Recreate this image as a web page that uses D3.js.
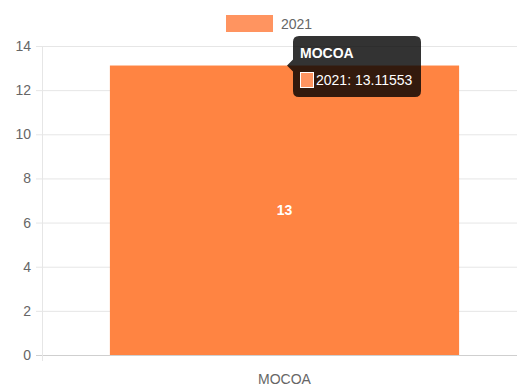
<!DOCTYPE html>
<html>
<head>
<meta charset="utf-8">
<script src="https://cdn.jsdelivr.net/npm/d3@7"></script>
<style>
  body { margin: 0; background: #fff; }
  svg { display: block; font-family: "Liberation Sans", Arial, sans-serif; }
</style>
</head>
<body>
<div id="chart"></div>
<script>
// data
const categories = ["MOCOA"]
const seriesName = "2021"
const values = [13.11553]
const yTicks = [0, 2, 4, 6, 8, 10, 12, 14]

const width = 517, height = 387
const margin = { top: 46, right: -10, bottom: 32, left: 42 }

const svg = d3.select("#chart").append("svg")
  .attr("width", width)
  .attr("height", height)

const x = d3.scaleBand()
  .domain(categories)
  .range([margin.left, width - margin.right])
  .paddingInner(0.28)
  .paddingOuter(0.14)

const y = d3.scaleLinear()
  .domain([0, 14])
  .range([height - margin.bottom, margin.top])

// gridlines
svg.append("g")
  .selectAll("line")
  .data(yTicks)
  .enter().append("line")
  .attr("x1", margin.left - 6)
  .attr("x2", width)
  .attr("y1", d => y(d) + 0.5)
  .attr("y2", d => y(d) + 0.5)
  .attr("stroke", d => d === 0 ? "#cfcfcf" : "#e6e6e6")
  .attr("stroke-width", 1)

// vertical axis line
svg.append("line")
  .attr("x1", margin.left + 0.5).attr("x2", margin.left + 0.5)
  .attr("y1", y(14)).attr("y2", y(0) + 6)
  .attr("stroke", "#e6e6e6")

// y labels
svg.append("g")
  .selectAll("text")
  .data(yTicks)
  .enter().append("text")
  .attr("x", margin.left - 11)
  .attr("y", d => y(d))
  .attr("dy", "0.36em")
  .attr("text-anchor", "end")
  .attr("font-size", 14)
  .attr("fill", "#666")
  .text(d => d)

// bars
svg.append("g")
  .selectAll("rect")
  .data(values)
  .enter().append("rect")
  .attr("x", (d, i) => x(categories[i]))
  .attr("width", x.bandwidth())
  .attr("y", d => y(d))
  .attr("height", d => y(0) - y(d))
  .attr("fill", "#ff8442")

// data labels
svg.append("g")
  .selectAll("text")
  .data(values)
  .enter().append("text")
  .attr("x", (d, i) => x(categories[i]) + x.bandwidth() / 2)
  .attr("y", d => (y(d) + y(0)) / 2)
  .attr("dy", "0.36em")
  .attr("text-anchor", "middle")
  .attr("font-size", 14)
  .attr("font-weight", "bold")
  .attr("fill", "#fff")
  .text(d => Math.round(d))

// x labels
svg.append("g")
  .selectAll("text")
  .data(categories)
  .enter().append("text")
  .attr("x", d => x(d) + x.bandwidth() / 2)
  .attr("y", y(0) + 24)
  .attr("dy", "0.36em")
  .attr("text-anchor", "middle")
  .attr("font-size", 14)
  .attr("fill", "#666")
  .text(d => d)

// legend
const legend = svg.append("g")
legend.append("rect")
  .attr("x", 226).attr("y", 15)
  .attr("width", 47).attr("height", 17)
  .attr("fill", "#ff9460")
legend.append("text")
  .attr("x", 281).attr("y", 24)
  .attr("dy", "0.36em")
  .attr("font-size", 14)
  .attr("fill", "#666")
  .text(seriesName)

// tooltip
const tip = svg.append("g")
const tx = 293, ty = 36, tw = 128, th = 61, r = 6
const cx = tx, cy = y(values[0])
tip.append("path")
  .attr("d", `M${tx + r},${ty} H${tx + tw - r} Q${tx + tw},${ty} ${tx + tw},${ty + r}
    V${ty + th - r} Q${tx + tw},${ty + th} ${tx + tw - r},${ty + th}
    H${tx + r} Q${tx},${ty + th} ${tx},${ty + th - r}
    V${cy + 6} L${cx - 6},${cy} L${tx},${cy - 6}
    V${ty + r} Q${tx},${ty} ${tx + r},${ty} Z`)
  .attr("fill", "rgba(0,0,0,0.8)")
tip.append("text")
  .attr("x", tx + 7).attr("y", ty + 17)
  .attr("dy", "0.36em")
  .attr("font-size", 14)
  .attr("font-weight", "bold")
  .attr("fill", "#fff")
  .text(categories[0])
tip.append("rect")
  .attr("x", tx + 7.5).attr("y", ty + 36.5)
  .attr("width", 13).attr("height", 15)
  .attr("fill", "#ff9460")
  .attr("stroke", "#fff")
tip.append("text")
  .attr("x", tx + 23).attr("y", ty + 44)
  .attr("dy", "0.36em")
  .attr("font-size", 14)
  .attr("fill", "#fff")
  .text(seriesName + ": " + values[0])
</script>
</body>
</html>
